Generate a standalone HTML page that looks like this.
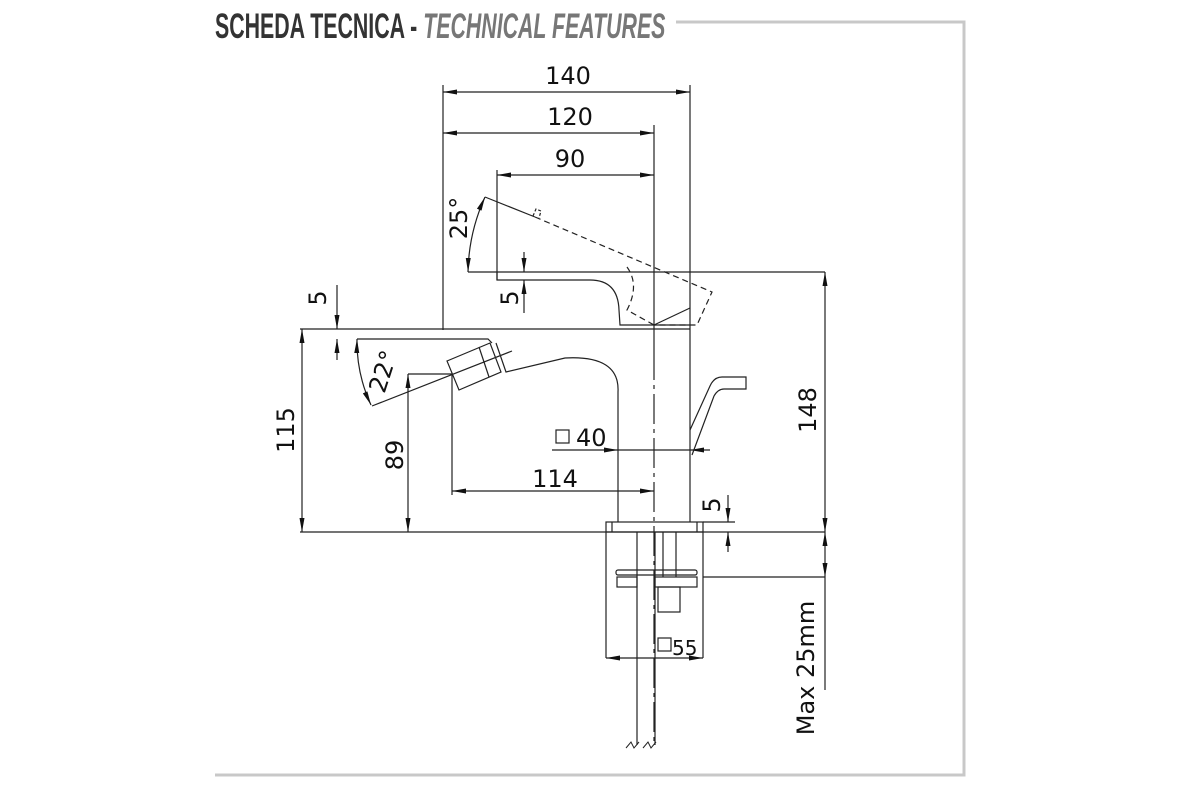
<!DOCTYPE html>
<html><head><meta charset="utf-8"><style>
html,body{margin:0;padding:0;background:#fff;width:1200px;height:800px;overflow:hidden}
svg{display:block}
.t{font-family:"DejaVu Sans","Liberation Sans",sans-serif;font-size:24px;fill:#111}
</style></head><body>
<svg width="1200" height="800" viewBox="0 0 1200 800">
<defs>
<marker id="a" markerWidth="14" markerHeight="8" refX="14" refY="4" orient="auto-start-reverse" markerUnits="userSpaceOnUse">
<path d="M0,1.5 L14,4 L0,6.5 Z" fill="#111"/></marker>
</defs>
<!-- frame -->
<path d="M676,22 H964 V775 H215" fill="none" stroke="#c8c8c8" stroke-width="3"/>
<text x="215" y="38" font-family="Liberation Sans,sans-serif" font-weight="bold" font-size="35" fill="#333" transform="translate(215 0) scale(0.61 1) translate(-215 0)">SCHEDA TECNICA - <tspan fill="#777" font-style="italic">TECHNICAL FEATURES</tspan></text>

<g fill="none" stroke="#222" stroke-width="1.2">
<line x1="443" y1="85" x2="443" y2="330"/>
<line x1="690" y1="85" x2="690" y2="522"/>
<line x1="654" y1="125" x2="654" y2="350"/>
<line x1="654" y1="350" x2="654" y2="745" stroke-dasharray="30 5 4 5"/>
<line x1="497" y1="170" x2="497" y2="280"/>
<line x1="443" y1="92" x2="690" y2="92" marker-start="url(#a)" marker-end="url(#a)"/>
<line x1="443" y1="133" x2="654" y2="133" marker-start="url(#a)" marker-end="url(#a)"/>
<line x1="497" y1="175" x2="654" y2="175" marker-start="url(#a)" marker-end="url(#a)"/>
<line x1="468" y1="272" x2="825" y2="272"/>
<path d="M497,272 V280 H590 Q618,280 619,310 L620,325 H690"/>
<line x1="300" y1="329" x2="690" y2="329"/>
<line x1="485" y1="197" x2="535" y2="217"/>
<path d="M535,217 L712,292 L697,325 H654 M627,267 Q640,285 627,310 L654,325" stroke-dasharray="6 4"/>
<path d="M533,216 L536,209 L541,211 L539,218" stroke-dasharray="3 2"/>
<path d="M654,325 L690,308"/>
<path d="M485,197 A190 190 0 0 0 468,272" marker-start="url(#a)" marker-end="url(#a)"/>
<line x1="524" y1="252" x2="524" y2="272" marker-end="url(#a)"/>
<line x1="524" y1="313" x2="524" y2="280" marker-end="url(#a)"/>
<path d="M357,339 H488 L492,343"/>
<path d="M447,361 L490,343 L501,372 L459,390 Z"/>
<line x1="479" y1="347" x2="489" y2="377"/>
<line x1="372" y1="406" x2="512" y2="351"/>
<path d="M496,343 L506,372 L565,358 Q620,355 618,392 V522"/>
<line x1="408" y1="374" x2="452" y2="374"/>
<line x1="452" y1="374" x2="452" y2="495"/>
<path d="M357,339 A150 150 0 0 0 371,405" marker-start="url(#a)" marker-end="url(#a)"/>
<line x1="337" y1="285" x2="337" y2="329" marker-end="url(#a)"/>
<line x1="337" y1="360" x2="337" y2="339" marker-end="url(#a)"/>
<line x1="302" y1="329" x2="302" y2="532" marker-start="url(#a)" marker-end="url(#a)"/>
<line x1="408" y1="374" x2="408" y2="532" marker-start="url(#a)" marker-end="url(#a)"/>
<line x1="300" y1="532" x2="825" y2="532"/>
<line x1="452" y1="491" x2="654" y2="491" marker-start="url(#a)" marker-end="url(#a)"/>
<line x1="552" y1="450" x2="618" y2="450" marker-end="url(#a)"/>
<line x1="710" y1="450" x2="690" y2="450" marker-end="url(#a)"/>
<line x1="618" y1="450" x2="690" y2="450"/>
<path d="M690,430 L710,386 Q714,377 722,377 H746 V389 H724 Q718,389 714,396 L692,455"/>
<rect x="606" y="522" width="97" height="10"/>
<line x1="612" y1="522" x2="612" y2="532"/><line x1="697" y1="522" x2="697" y2="532"/>
<path d="M606,532 V658 M703,532 V658"/>
<line x1="637" y1="532" x2="637" y2="745"/>
<line x1="655" y1="532" x2="655" y2="745"/>
<line x1="663" y1="532" x2="663" y2="577"/>
<line x1="676" y1="532" x2="676" y2="577"/>
<rect x="616" y="570" width="81" height="5" rx="2"/>
<rect x="617" y="577" width="20" height="10"/>
<rect x="655" y="577" width="42" height="10"/>
<rect x="658" y="587" width="22" height="25"/>
<line x1="606" y1="658" x2="703" y2="658" marker-start="url(#a)" marker-end="url(#a)"/>
<path d="M626,748 l5,-6 l3,6 l5,-6 M643,748 l5,-6 l3,6 l5,-6" stroke-width="1"/>
<line x1="825" y1="272" x2="825" y2="532" marker-start="url(#a)" marker-end="url(#a)"/>
<line x1="703" y1="522" x2="735" y2="522"/>
<line x1="728" y1="495" x2="728" y2="522" marker-end="url(#a)"/>
<line x1="728" y1="552" x2="728" y2="532" marker-end="url(#a)"/>
<line x1="825" y1="532" x2="825" y2="577" marker-start="url(#a)" marker-end="url(#a)"/>
<line x1="703" y1="577" x2="825" y2="577"/>
<line x1="825" y1="577" x2="825" y2="690"/>
</g>
<g class="t">
<text x="568" y="84" text-anchor="middle">140</text>
<text x="570" y="125" text-anchor="middle">120</text>
<text x="570" y="167" text-anchor="middle">90</text>
<text transform="translate(467 218) rotate(-90)" text-anchor="middle">25°</text>
<text transform="translate(518 298) rotate(-90)" text-anchor="middle">5</text>
<text transform="translate(326 298) rotate(-90)" text-anchor="middle">5</text>
<text transform="translate(391 374) rotate(-72)" text-anchor="middle">22°</text>
<text transform="translate(294 430) rotate(-90)" text-anchor="middle">115</text>
<text transform="translate(403 455) rotate(-90)" text-anchor="middle">89</text>
<text x="555" y="487" text-anchor="middle">114</text>
<text x="576" y="446">40</text>
<text transform="translate(816 410) rotate(-90)" text-anchor="middle">148</text>
<text transform="translate(720 505) rotate(-90)" text-anchor="middle">5</text>
<text transform="translate(814 668) rotate(-90)" text-anchor="middle">Max 25mm</text>
<text x="672" y="655" font-size="20">55</text>
</g>
<rect x="556" y="430" width="13" height="13" fill="none" stroke="#222" stroke-width="1.2"/>
<rect x="658" y="638" width="13" height="13" fill="none" stroke="#222" stroke-width="1.2"/>
</svg>
</body></html>
